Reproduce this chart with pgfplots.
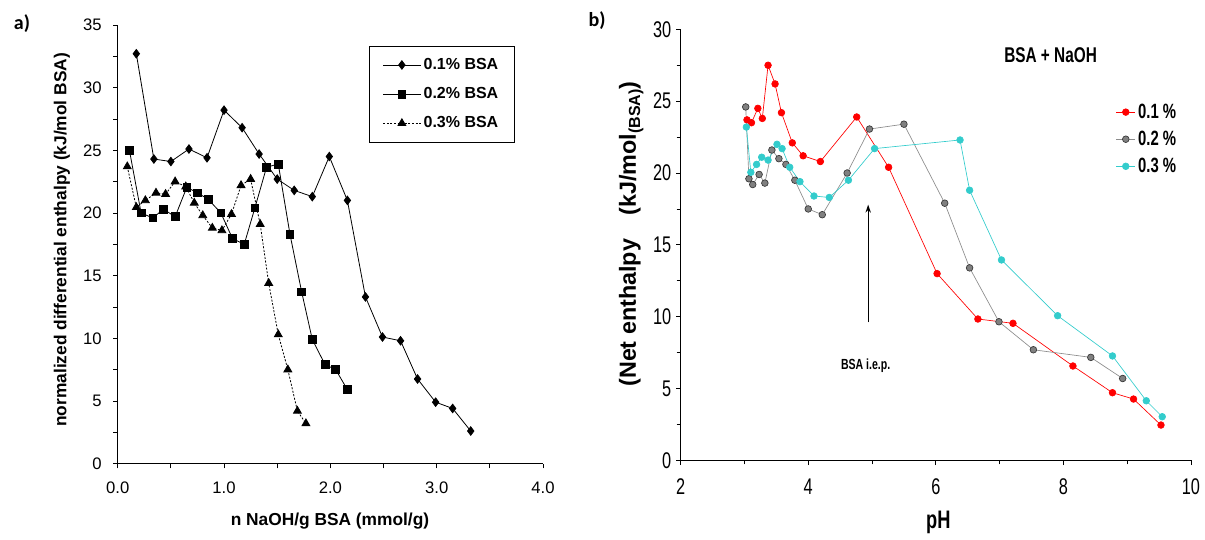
\documentclass[border=0pt]{standalone}
\usepackage{fontspec}
\setmainfont{Liberation Sans}
\newfontfamily\narrowfont[FakeStretch=0.72]{Liberation Sans}
\newfontfamily\calibrifont{Carlito}
\usepackage{pgfplots}
\pgfplotsset{compat=1.18}
\usetikzlibrary{arrows.meta}

\definecolor{myred}{RGB}{255,0,0}
\definecolor{mygray}{RGB}{128,128,128}
\definecolor{mygrayedge}{RGB}{55,55,55}
\definecolor{mygrayline}{RGB}{140,140,140}
\definecolor{mycyan}{RGB}{51,204,204}

\begin{document}
\begin{tikzpicture}
\useasboundingbox (0,0) rectangle (903.75pt,404.25pt);

% ---------------- panel a ----------------
\begin{axis}[
  at={(88.28pt,56.55pt)}, anchor=south west,
  scale only axis, width=319.0pt, height=329.0pt,
  xmin=0, xmax=4, ymin=0, ymax=35,
  axis x line*=bottom, axis y line*=left,
  axis line style={-, line width=0.7pt},
  xtick={0,1,2,3,4}, xticklabels={0.0,1.0,2.0,3.0,4.0},
  minor xtick={0.5,1.5,2.5,3.5},
  ytick={0,5,10,15,20,25,30,35}, yticklabels={0,5,10,15,20,25,30,35},
  minor ytick={2.5,7.5,12.5,17.5,22.5,27.5,32.5},
  tick align=outside, major tick length=3.5pt, minor tick length=3.5pt,
  tick style={black, line width=0.6pt},
  ticklabel style={font=\fontsize{12.5}{14}\selectfont},
  xticklabel style={yshift=-7pt},
  yticklabel style={xshift=-5pt},
  xlabel={n NaOH/g BSA (mmol/g)},
  ylabel={normalized differential enthalpy (kJ/mol BSA)},
  label style={font=\bfseries\fontsize{13}{15}\selectfont},
  xlabel style={at={(axis description cs:0.499,-0.131)}, anchor=center},
  ylabel style={at={(axis description cs:-0.131,0.51)}, anchor=center},
  legend style={at={(axis description cs:0.591,0.952)}, anchor=north west,
    draw=black, line width=0.6pt, font=\bfseries\fontsize{12}{14}\selectfont,
    row sep=8pt, inner xsep=10pt, inner ysep=7pt},
  legend cell align=left,
  legend image code/.code={\draw[mark repeat=2,mark phase=2,#1] plot coordinates {(0pt,0pt) (14pt,0pt) (28pt,0pt)};},
]
\addplot[black, line width=0.6pt, mark=diamond*, mark size=3.2pt, mark options={solid}] coordinates {
(0.175,32.7) (0.34,24.3) (0.50,24.1) (0.67,25.1) (0.84,24.4) (1.00,28.2) (1.17,26.8) (1.33,24.7) (1.50,22.7) (1.66,21.8) (1.83,21.3) (1.99,24.5) (2.16,21.0) (2.33,13.3) (2.49,10.1) (2.66,9.8) (2.82,6.75) (2.99,4.9) (3.15,4.4) (3.32,2.6)};
\addlegendentry{0.1\% BSA}
\addplot[black, line width=0.6pt, mark=square*, mark size=2.9pt, mark options={solid}] coordinates {
(0.11,25.0) (0.22,20.0) (0.33,19.6) (0.43,20.3) (0.54,19.7) (0.65,22.05) (0.75,21.6) (0.85,21.1) (0.97,20.0) (1.08,17.95) (1.19,17.5) (1.29,20.4) (1.40,23.65) (1.51,23.9) (1.62,18.3) (1.73,13.7) (1.83,9.9) (1.95,7.9) (2.05,7.5) (2.16,5.9)};
\addlegendentry{0.2\% BSA}
\addplot[black, line width=0.6pt, dash pattern=on 1.5pt off 1.2pt, mark=triangle*, mark size=3.4pt, mark options={solid}] coordinates {
(0.09,23.7) (0.175,20.45) (0.26,21.0) (0.36,21.6) (0.45,21.5) (0.54,22.5) (0.64,22.1) (0.72,20.8) (0.80,19.8) (0.89,18.8) (0.98,18.6) (1.07,19.9) (1.16,22.2) (1.25,22.7) (1.34,19.1) (1.42,14.4) (1.51,10.3) (1.60,7.5) (1.69,4.2) (1.77,3.2)};
\addlegendentry{0.3\% BSA}
\end{axis}

% ---------------- panel b ----------------
\begin{axis}[
  at={(510.5pt,58.95pt)}, anchor=south west,
  scale only axis, width=382.7pt, height=323.3pt,
  xmin=2, xmax=10, ymin=0, ymax=30,
  axis x line*=bottom, axis y line*=left,
  axis line style={-, line width=0.7pt},
  xtick={2,4,6,8,10}, xticklabels={2,4,6,8,10},
  minor xtick={3,5,7,9},
  ytick={0,5,10,15,20,25,30}, yticklabels={0,5,10,15,20,25,30},
  minor ytick={2.5,7.5,12.5,17.5,22.5,27.5},
  tick align=outside, major tick length=3.5pt, minor tick length=3pt,
  tick style={black, line width=0.6pt},
  ticklabel style={font=\narrowfont\fontsize{17}{19}\selectfont},
  xticklabel style={yshift=-7pt},
  xlabel={pH},
  ylabel={(Net enthalpy\quad(kJ/mol\raisebox{-0.35ex}{\fontsize{12}{13}\selectfont (BSA)})},
  xlabel style={font=\narrowfont\bfseries\fontsize{19}{21}\selectfont, at={(axis description cs:0.505,-0.143)}, anchor=center},
  ylabel style={font=\bfseries\fontsize{17.5}{19}\selectfont, at={(axis description cs:-0.097,0.525)}, anchor=center},
  legend style={at={(axis description cs:0.845,0.84)}, anchor=north west,
    draw=none, fill=none, font=\narrowfont\bfseries\fontsize{15.5}{17}\selectfont,
    row sep=4pt},
  legend cell align=left,
  legend image code/.code={\draw[mark repeat=2,mark phase=2,#1] plot coordinates {(0pt,0pt) (7pt,0pt) (14pt,0pt)};},
]
\addplot[myred, line width=0.5pt, mark=*, mark size=2.5pt, mark options={fill=myred, draw=myred}] coordinates {
(3.04,23.7) (3.11,23.5) (3.21,24.5) (3.28,23.8) (3.37,27.5) (3.48,26.2) (3.58,24.2) (3.75,22.1) (3.92,21.2) (4.19,20.8) (4.76,23.9) (5.26,20.4) (6.02,13.0) (6.66,9.84) (7.21,9.54) (8.15,6.57) (8.77,4.71) (9.10,4.27) (9.53,2.46)};
\addlegendentry{0.1 \%}
\addplot[mygrayline, line width=0.5pt, mark=*, mark size=2.5pt, mark options={fill=mygray, draw=mygrayedge, line width=0.5pt}] coordinates {
(3.02,24.6) (3.07,19.6) (3.13,19.2) (3.23,19.9) (3.32,19.3) (3.43,21.6) (3.54,21.0) (3.65,20.6) (3.79,19.5) (4.00,17.5) (4.22,17.1) (4.61,20.0) (4.96,23.06) (5.50,23.4) (6.14,17.9) (6.53,13.4) (6.99,9.65) (7.53,7.7) (8.43,7.17) (8.93,5.7)};
\addlegendentry{0.2 \%}
\addplot[mycyan, line width=0.5pt, mark=*, mark size=2.5pt, mark options={fill=mycyan, draw=mycyan}] coordinates {
(3.03,23.2) (3.10,20.05) (3.19,20.6) (3.27,21.1) (3.37,20.9) (3.51,22.0) (3.59,21.7) (3.71,20.4) (3.87,19.4) (4.09,18.4) (4.33,18.3) (4.63,19.5) (5.04,21.7) (6.38,22.3) (6.53,18.8) (7.03,13.95) (7.91,10.07) (8.77,7.27) (9.30,4.15) (9.55,3.04)};
\addlegendentry{0.3 \%}
\draw[-{Stealth[length=6pt,width=4pt]}, line width=0.8pt] (axis cs:4.94,9.6) -- (axis cs:4.94,17.8);
\node[font=\narrowfont\bfseries\fontsize{11}{13}\selectfont] at (axis cs:4.90,6.6) {BSA i.e.p.};
\node[anchor=west, font=\narrowfont\bfseries\fontsize{16}{18}\selectfont] at (axis cs:7.0,28.2) {BSA + NaOH};
\end{axis}

\node[font=\calibrifont\bfseries\fontsize{15}{17}\selectfont] at (16.5pt,386.25pt) {a)};
\node[font=\calibrifont\bfseries\fontsize{15}{17}\selectfont] at (447.75pt,388.5pt) {b)};
\end{tikzpicture}
\end{document}
